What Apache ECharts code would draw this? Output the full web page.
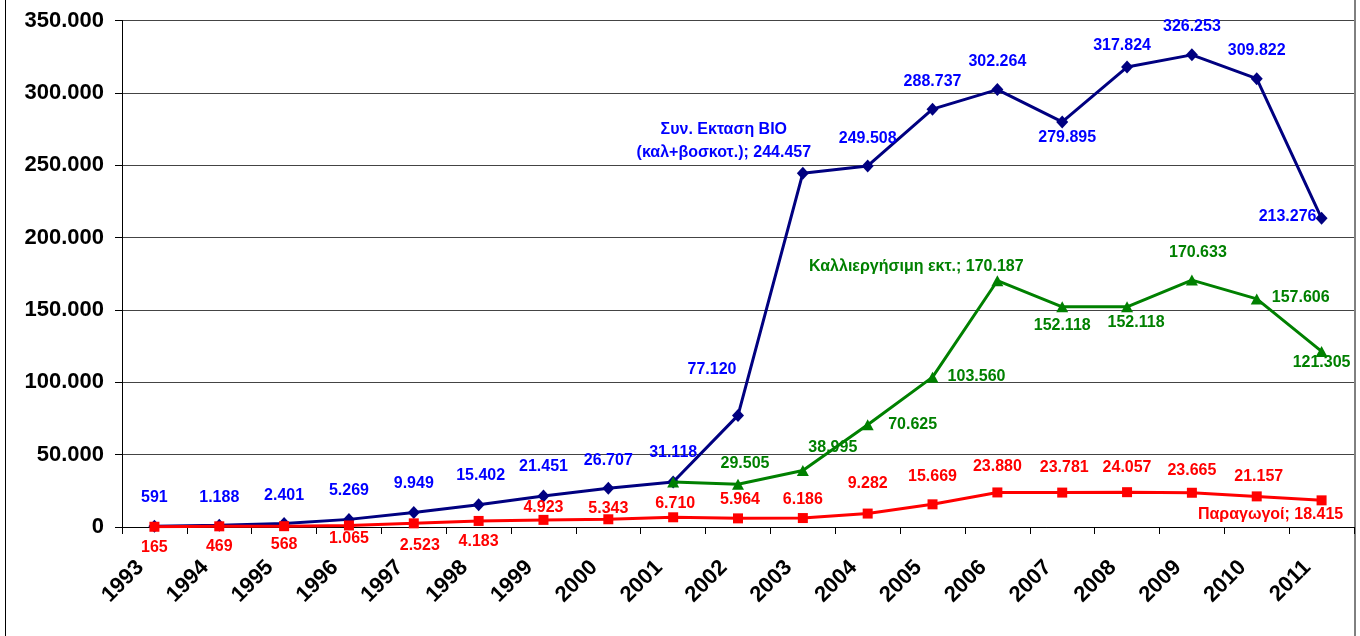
<!DOCTYPE html>
<html style="height: 100%">
    <head>
        <meta charset="utf-8">
        <title>Βιολογική γεωργία 1993-2011</title>
        <script type="text/javascript" src="https://cdn.jsdelivr.net/npm/echarts@6/dist/echarts.min.js"></script>
        <style>
            html, body { margin: 0; padding: 0; background: #fff; }
            #container { width: 1360px; height: 636px; }
        </style>
    </head>
    <body>
        <div id="container"></div>

        <script type="text/javascript">
        // data
        var years = ['1993', '1994', '1995', '1996', '1997', '1998', '1999', '2000', '2001', '2002',
                     '2003', '2004', '2005', '2006', '2007', '2008', '2009', '2010', '2011'];
        var totalArea = [591, 1188, 2401, 5269, 9949, 15402, 21451, 26707, 31118, 77120,
                         244457, 249508, 288737, 302264, 279895, 317824, 326253, 309822, 213276];
        var arableArea = [null, null, null, null, null, null, null, null, 31118, 29505,
                          38995, 70625, 103560, 170187, 152118, 152118, 170633, 157606, 121305];
        var producers = [165, 469, 568, 1065, 2523, 4183, 4923, 5343, 6710, 5964,
                         6186, 9282, 15669, 23880, 23781, 24057, 23665, 21157, 18415];
        var yTicks = [0, 50000, 100000, 150000, 200000, 250000, 300000, 350000];

        var totalName = 'Συν. Εκταση ΒΙΟ\n(καλ+βοσκοτ.)';
        var arableName = 'Καλλιεργήσιμη εκτ.';
        var producersName = 'Παραγωγοί';

        // where each value label sits, relative to its marker
        var totalLabelPos = [[0,-29],[0,-28],[0,-28],[0,-29],[0,-29],[2,-29],[0,-29],[0,-28],[0,-29],[-26,-46],
                             [-79,-32],[0,-27],[0,-28],[0,-28],[5,16],[-5,-21],[0,-28],[0,-28],[-34,-2]];
        var arableLabelPos = [null,null,null,null,null,null,null,null,null,[7,-21],
                              [30,-23],[45,0],[44,-1],[-81,-14],[0,19],[9,16],[6,-27],[44,-1],[0,11]];
        var producersLabelPos = [[0,21],[0,20],[0,18],[0,13],[6,22],[0,21],[0,-12],[0,-11],[2,-14],[2,-19],
                                 [0,-18],[0,-30],[0,-28],[0,-26],[2,-25],[0,-25],[0,-22],[2,-20],[-51,14]];
        // points whose label also carries the series name
        var namedPoint = {total: 10, arable: 13, producers: 18};

        function fmt(v) {
            return String(v).replace(/\B(?=(\d{3})+(?!\d))/g, '.');
        }

        function buildData(values, offsets, nameIdx, name) {
            return values.map(function (v, i) {
                if (v === null) return null;
                var item = {value: v, label: {}};
                if (!offsets[i]) {
                    item.label.show = false;
                } else {
                    item.label.offset = offsets[i];
                }
                if (i === nameIdx) {
                    item.label.formatter = name + '; ' + fmt(v);
                }
                return item;
            });
        }

        var font = '"Liberation Sans", Arial, sans-serif';

        var chartDom = document.getElementById('container');
        var myChart = echarts.init(chartDom, null, {renderer: 'canvas'});
        var option;

        option = {
            animation: false,
            backgroundColor: '#fff',
            textStyle: {fontFamily: font},
            graphic: [{
                type: 'rect',
                shape: {x: 5.5, y: -10, width: 1349.5, height: 660},
                style: {fill: 'none', stroke: '#000', lineWidth: 1},
                silent: true,
                z: 100
            }],
            grid: {
                left: 122,
                right: 6,
                top: 20.5,
                bottom: 109
            },
            xAxis: {
                type: 'category',
                data: years,
                boundaryGap: true,
                axisLine: {lineStyle: {color: '#000', width: 1}},
                axisTick: {show: true, length: 7, alignWithLabel: false, lineStyle: {color: '#000'}},
                axisLabel: {
                    rotate: 45,
                    margin: 23,
                    padding: [0, 20, 0, 0],
                    color: '#000',
                    fontSize: 22,
                    fontWeight: 'bold',
                    fontFamily: font
                },
                splitLine: {show: false}
            },
            yAxis: {
                type: 'value',
                min: yTicks[0],
                max: yTicks[yTicks.length - 1],
                interval: yTicks[1] - yTicks[0],
                axisLine: {show: true, lineStyle: {color: '#000', width: 1}},
                axisTick: {show: true, length: 7, lineStyle: {color: '#000'}},
                axisLabel: {
                    margin: 18,
                    color: '#000',
                    fontSize: 22,
                    fontWeight: 'bold',
                    fontFamily: font,
                    formatter: function (v) { return fmt(v); }
                },
                splitLine: {show: true, lineStyle: {color: '#444', width: 1}}
            },
            series: [{
                name: totalName,
                type: 'line',
                data: buildData(totalArea, totalLabelPos, namedPoint.total, totalName),
                symbol: 'diamond',
                symbolSize: [12, 13],
                lineStyle: {color: '#000080', width: 3},
                itemStyle: {color: '#000080'},
                label: {
                    show: true,
                    position: 'inside',
                    color: '#0000ff',
                    fontSize: 16,
                    fontWeight: 'bold',
                    fontFamily: font,
                    lineHeight: 23,
                    align: 'center',
                    formatter: function (p) { return fmt(p.value); }
                },
                z: 2
            }, {
                name: arableName,
                type: 'line',
                data: buildData(arableArea, arableLabelPos, namedPoint.arable, arableName),
                symbol: 'triangle',
                symbolSize: [12, 11],
                lineStyle: {color: '#008000', width: 3},
                itemStyle: {color: '#008000'},
                label: {
                    show: true,
                    position: 'inside',
                    color: '#008000',
                    fontSize: 16,
                    fontWeight: 'bold',
                    fontFamily: font,
                    formatter: function (p) { return fmt(p.value); }
                },
                z: 3
            }, {
                name: producersName,
                type: 'line',
                data: buildData(producers, producersLabelPos, namedPoint.producers, producersName),
                symbol: 'rect',
                symbolSize: 10,
                lineStyle: {color: '#ff0000', width: 3},
                itemStyle: {color: '#ff0000'},
                label: {
                    show: true,
                    position: 'inside',
                    color: '#ff0000',
                    fontSize: 16,
                    fontWeight: 'bold',
                    fontFamily: font,
                    formatter: function (p) { return fmt(p.value); }
                },
                z: 4
            }]
        };

        option && myChart.setOption(option);
        </script>
    </body>
</html>
